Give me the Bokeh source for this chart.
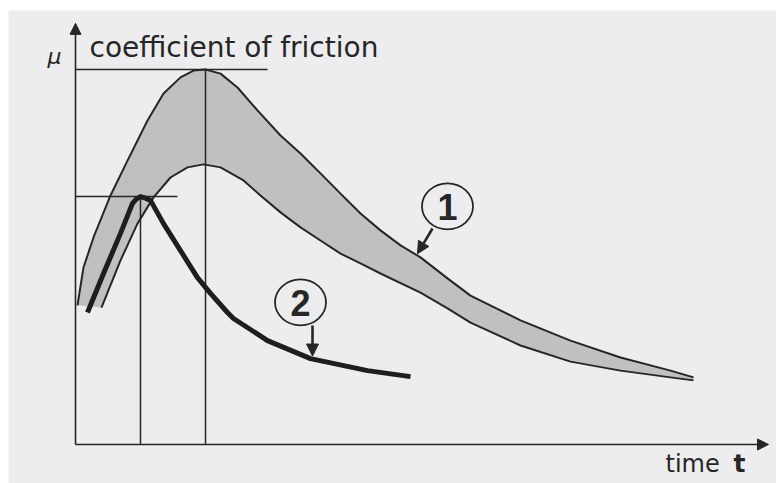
import numpy as np
from bokeh.plotting import figure
from bokeh.models import Range1d, Arrow, NormalHead, Label
from bokeh.embed import file_html
from bokeh.resources import INLINE

# ---- data (time t in arbitrary units, coefficient of friction mu normalised to peak of band = 1) ----
upper_t = [0.033, 0.133, 0.300, 0.583, 0.867, 1.200, 1.467, 1.750, 1.967, 2.167, 2.417, 2.700,
           3.033, 3.417, 3.750, 4.083, 4.417, 4.750, 5.083, 5.417, 5.750, 6.200, 6.583, 7.417,
           8.250, 9.083, 9.917, 10.300]
upper_mu = [0.371, 0.472, 0.552, 0.664, 0.757, 0.864, 0.936, 0.979, 0.997, 1.000, 0.989, 0.952,
            0.891, 0.824, 0.776, 0.723, 0.669, 0.616, 0.571, 0.531, 0.499, 0.443, 0.397, 0.331,
            0.277, 0.232, 0.197, 0.179]

lower_t = [0.433, 0.750, 1.033, 1.300, 1.583, 1.867, 2.133, 2.417, 2.800, 3.083, 3.417, 3.750,
           4.083, 4.417, 4.750, 5.083, 5.750, 6.200, 6.583, 7.417, 8.250, 9.083, 9.917, 10.300]
lower_mu = [0.365, 0.491, 0.589, 0.659, 0.712, 0.739, 0.747, 0.739, 0.704, 0.664, 0.619, 0.579,
            0.544, 0.509, 0.483, 0.456, 0.405, 0.363, 0.325, 0.264, 0.221, 0.197, 0.179, 0.171]

curve2_t = [0.200, 0.467, 0.750, 0.950, 1.017, 1.083, 1.167, 1.250, 1.467, 1.750, 2.033, 2.250,
            2.533, 2.633, 3.200, 3.917, 4.867, 5.583]
curve2_mu = [0.352, 0.456, 0.563, 0.643, 0.655, 0.661, 0.657, 0.651, 0.589, 0.517, 0.445, 0.403,
             0.352, 0.336, 0.277, 0.229, 0.197, 0.181]

labels = ["1", "2"]
y_title = "coefficient of friction"
y_symbol = "μ"
x_title = "time"
x_symbol = "t"

# ---- layout constants ----
T_MIN, T_MAX = -1.1167, 11.6833
MU_MIN, MU_MAX = -0.104, 1.1573
AXIS_T_END = 11.55
AXIS_MU_END = 1.123
INK = "#262626"

p = figure(width=776, height=483, x_range=Range1d(T_MIN, T_MAX), y_range=Range1d(MU_MIN, MU_MAX),
           x_axis_type=None, y_axis_type=None, toolbar_location=None, output_backend="svg",
           min_border_left=8, min_border_top=10, min_border_right=0, min_border_bottom=0,
           background_fill_color="#ededef", border_fill_color="#ffffff")
p.outline_line_color = None
p.xgrid.visible = False
p.ygrid.visible = False

# shaded band (curve 1)
band_x = list(upper_t) + list(reversed(lower_t))
band_y = list(upper_mu) + list(reversed(lower_mu))
p.patch(band_x, band_y, fill_color="#c0c0c2", line_color=None)
p.line(upper_t, upper_mu, line_color=INK, line_width=2.0, line_join="round")
p.line(lower_t, lower_mu, line_color=INK, line_width=2.0, line_join="round")

# reference lines at peaks
i_up = int(np.argmax(upper_mu))
i_c2 = int(np.argmax(curve2_mu))
p.segment(x0=[0, upper_t[i_up], 0, curve2_t[i_c2]],
          y0=[upper_mu[i_up], 0, curve2_mu[i_c2], 0],
          x1=[3.2, upper_t[i_up], 1.7, curve2_t[i_c2]],
          y1=[upper_mu[i_up], upper_mu[i_up], curve2_mu[i_c2], curve2_mu[i_c2]],
          line_color=INK, line_width=1.5)

# curve 2
p.line(curve2_t, curve2_mu, line_color="#1e1e1e", line_width=5, line_join="round")

# axes with arrows
p.add_layout(Arrow(end=NormalHead(size=11, fill_color=INK, line_color=INK),
                   x_start=0, y_start=0, x_end=0, y_end=AXIS_MU_END, line_color=INK, line_width=1.6))
p.add_layout(Arrow(end=NormalHead(size=11, fill_color=INK, line_color=INK),
                   x_start=0, y_start=0, x_end=AXIS_T_END, y_end=0, line_color=INK, line_width=1.6))

# axis texts
p.add_layout(Label(x=0.233, y=1.059, text=y_title, text_font="DejaVu Sans", text_font_size="28px",
                   text_color=INK, text_baseline="alphabetic"))
p.add_layout(Label(x=-0.467, y=1.035, text=y_symbol, text_font="DejaVu Sans", text_font_style="italic",
                   text_font_size="22px", text_color=INK, text_baseline="alphabetic"))
p.add_layout(Label(x=9.833, y=-0.051, text=x_title, text_font="DejaVu Sans", text_font_size="24px",
                   text_color=INK, text_baseline="alphabetic"))
p.add_layout(Label(x=10.967, y=-0.051, text=x_symbol, text_font="DejaVu Sans", text_font_style="bold",
                   text_font_size="25px", text_color=INK, text_baseline="alphabetic"))

# numbered callouts
tip1_t = 5.70
tip1_mu = float(np.interp(tip1_t, upper_t, upper_mu))
tip2_t = 3.95
tip2_mu = float(np.interp(tip2_t, curve2_t, curve2_mu))
circ_t = [6.2, 3.75]
circ_mu = [0.635, 0.379]
p.ellipse(x=circ_t, y=circ_mu, width=51, height=46, width_units="screen", height_units="screen",
          fill_color=None, line_color=INK, line_width=1.8)
for lab, ct, cm in zip(labels, circ_t, circ_mu):
    p.add_layout(Label(x=ct, y=cm, text=lab, text_font="Liberation Sans", text_font_style="bold",
                       text_font_size="36px", text_color=INK, text_align="center",
                       text_baseline="middle", y_offset=-1))
p.add_layout(Arrow(end=NormalHead(size=12, fill_color=INK, line_color=INK),
                   x_start=5.95, y_start=0.576, x_end=tip1_t, y_end=tip1_mu + 0.005,
                   line_color=INK, line_width=2.6))
p.add_layout(Arrow(end=NormalHead(size=12, fill_color=INK, line_color=INK),
                   x_start=tip2_t, y_start=0.317, x_end=tip2_t, y_end=tip2_mu + 0.008,
                   line_color=INK, line_width=2.6))

open("out.html", "w").write(file_html(p, INLINE))
